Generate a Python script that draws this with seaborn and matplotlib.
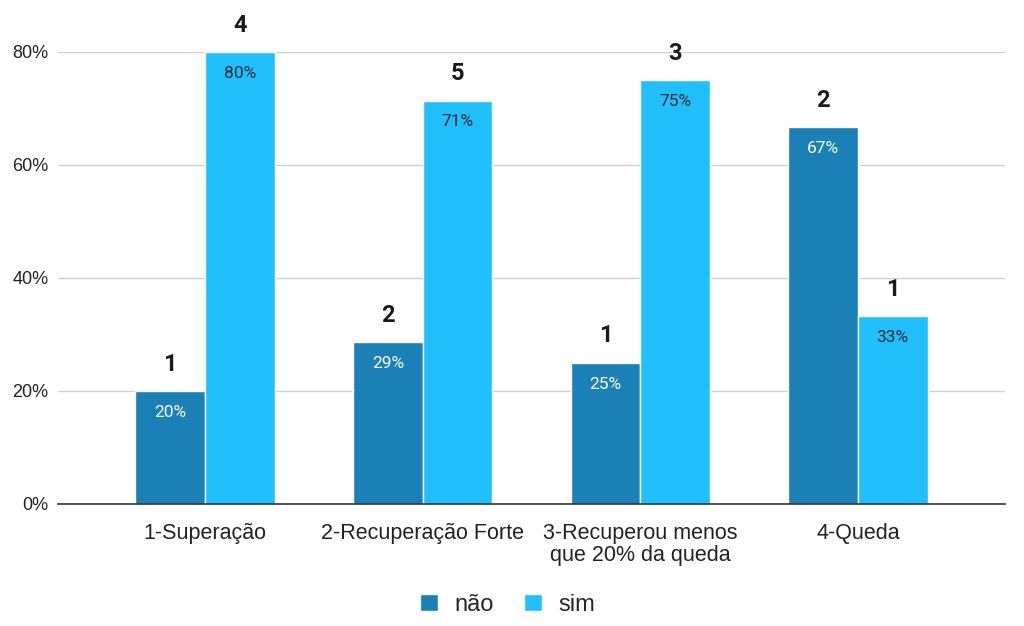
import pandas as pd
import matplotlib.pyplot as plt
import seaborn as sns

# dados
categorias = ['1-Superação', '2-Recuperação Forte', '3-Recuperou menos\nque 20% da queda', '4-Queda']
pct_nao = [0.20, 0.286, 0.25, 0.667]
pct_sim = [0.80, 0.714, 0.75, 0.333]
n_nao = [1, 2, 1, 2]
n_sim = [4, 5, 3, 1]
series = ['não', 'sim']
cores = ['#1a80b6', '#21c0fd']

df = pd.DataFrame({
    'categoria': categorias * 2,
    'pct': pct_nao + pct_sim,
    'n': n_nao + n_sim,
    'serie': ['não'] * 4 + ['sim'] * 4,
})

sns.set_style('white')
plt.rcParams['font.family'] = ['Liberation Sans', 'DejaVu Sans']

fig = plt.figure(figsize=(10.24, 6.26), dpi=100)
ax = fig.add_axes([0.057, 0.195, 0.924, 0.722])

sns.barplot(data=df, x='categoria', y='pct', hue='serie', hue_order=series,
            palette=cores, width=0.64, edgecolor='white', linewidth=1,
            saturation=1, ax=ax)

ax.set_xlim(-0.674, 3.674)
ax.set_ylim(0, 0.8)
ax.set_yticks([0, 0.2, 0.4, 0.6, 0.8])
ax.set_yticklabels(['0%', '20%', '40%', '60%', '80%'])
ax.yaxis.grid(True, color='#d0d0d0', linewidth=1)
ax.set_axisbelow(True)
for s in ['top', 'right', 'left']:
    ax.spines[s].set_visible(False)
ax.spines['bottom'].set_color('#333333')
ax.spines['bottom'].set_linewidth(1.2)
ax.tick_params(axis='both', length=0, colors='#222222')
ax.tick_params(axis='x', pad=14, labelsize=15.5)
ax.tick_params(axis='y', pad=7, labelsize=13)
for t in ax.get_xticklabels():
    t.set_linespacing(1.05)
ax.set_xlabel('')
ax.set_ylabel('')

# rótulos
for container, serie in zip(ax.containers, series):
    pcts = pct_nao if serie == 'não' else pct_sim
    ns = n_nao if serie == 'não' else n_sim
    cor_txt = 'white' if serie == 'não' else '#1a2a33'
    for bar, p, n in zip(container, pcts, ns):
        x = bar.get_x() + bar.get_width() / 2
        h = bar.get_height()
        ax.annotate(f'{p:.0%}', (x, h), xytext=(0, -10), textcoords='offset points',
                    ha='center', va='top', fontsize=12.5, color=cor_txt,
                    family=['Roboto', 'DejaVu Sans'])
        ax.annotate(str(n), (x, h), xytext=(0, 11), textcoords='offset points',
                    ha='center', va='bottom', fontsize=17, fontweight='bold',
                    color='#1a1a1a', annotation_clip=False,
                    family=['Roboto', 'DejaVu Sans'])

ax.legend(handles=ax.get_legend_handles_labels()[0], labels=series,
          loc='center', bbox_to_anchor=(0.475, -0.223), ncol=2, frameon=False,
          fontsize=17, handlelength=0.75, handleheight=0.75, handletextpad=0.7,
          columnspacing=1.3)

fig.savefig('out.png', dpi=100)
